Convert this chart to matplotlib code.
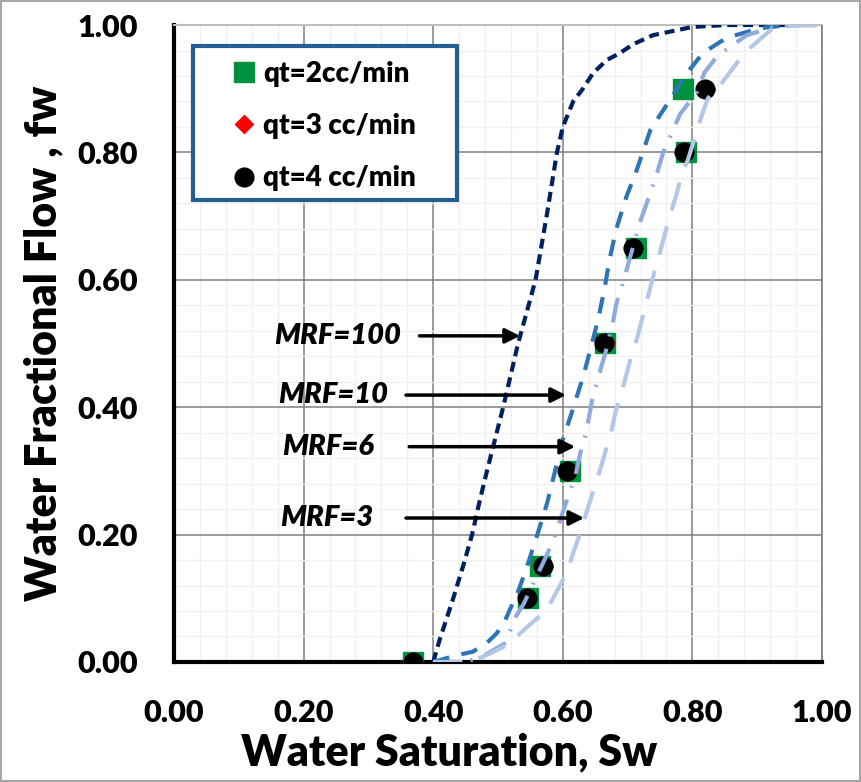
import numpy as np
import matplotlib.pyplot as plt
from matplotlib.patches import Rectangle
from matplotlib.ticker import MultipleLocator, FormatStrFormatter

# measured points (Sw, fw)
sw_q2 = [0.369, 0.546, 0.565, 0.611, 0.665, 0.713, 0.790, 0.785]
fw_q2 = [0.00, 0.10, 0.15, 0.30, 0.50, 0.65, 0.80, 0.90]
sw_q3 = [0.369, 0.547, 0.571, 0.609, 0.666, 0.710, 0.789, 0.821]
fw_q3 = [0.00, 0.10, 0.15, 0.30, 0.50, 0.65, 0.80, 0.90]
sw_q4 = [0.369, 0.545, 0.570, 0.607, 0.664, 0.708, 0.787, 0.820]
fw_q4 = [0.00, 0.10, 0.15, 0.30, 0.50, 0.65, 0.80, 0.90]

# fractional flow curves
sw_mrf100 = [0.40, 0.41, 0.43, 0.446, 0.46, 0.472, 0.483, 0.508, 0.531, 0.558, 0.575,
             0.591, 0.60, 0.616, 0.631, 0.647, 0.668, 0.688, 0.709, 0.739, 0.80, 0.85, 1.0]
fw_mrf100 = [0.0, 0.035, 0.097, 0.15, 0.20, 0.254, 0.30, 0.40, 0.50, 0.60, 0.70,
             0.80, 0.84, 0.88, 0.90, 0.925, 0.945, 0.956, 0.97, 0.984, 0.997, 1.0, 1.0]

sw_mrf10 = [0.40, 0.438, 0.461, 0.483, 0.498, 0.51, 0.52, 0.53, 0.539, 0.549, 0.562, 0.576,
            0.60, 0.614, 0.632, 0.645, 0.655, 0.664, 0.672, 0.682, 0.698, 0.714, 0.735,
            0.765, 0.789, 0.816, 0.853, 0.904, 0.95, 1.0]
fw_mrf10 = [0.0, 0.011, 0.016, 0.03, 0.045, 0.063, 0.086, 0.108, 0.133, 0.163, 0.204, 0.25,
            0.349, 0.392, 0.45, 0.50, 0.54, 0.584, 0.631, 0.678, 0.73, 0.772, 0.835,
            0.882, 0.921, 0.956, 0.98, 0.995, 1.0, 1.0]

sw_mrf6 = [0.40, 0.45, 0.475, 0.512, 0.526, 0.539, 0.573, 0.585, 0.596, 0.608, 0.619, 0.627,
           0.636, 0.645, 0.659, 0.667, 0.678, 0.683, 0.691, 0.704, 0.719, 0.735, 0.744,
           0.755, 0.77, 0.781, 0.807, 0.819, 0.836, 0.858, 0.884, 0.925, 0.96, 1.0]
fw_mrf6 = [0.0, 0.0, 0.008, 0.03, 0.069, 0.09, 0.163, 0.19, 0.223, 0.259, 0.29, 0.328,
           0.36, 0.41, 0.462, 0.49, 0.537, 0.564, 0.589, 0.636, 0.69, 0.736, 0.763,
           0.80, 0.835, 0.86, 0.895, 0.926, 0.948, 0.966, 0.984, 0.997, 1.0, 1.0]

sw_mrf3 = [0.40, 0.45, 0.477, 0.515, 0.545, 0.576, 0.585, 0.606, 0.616, 0.627, 0.639, 0.654,
           0.662, 0.676, 0.681, 0.696, 0.704, 0.714, 0.742, 0.755, 0.762, 0.776, 0.784,
           0.793, 0.812, 0.824, 0.843, 0.870, 0.889, 0.924, 0.96, 1.0]
fw_mrf3 = [0.0, 0.0, 0.008, 0.027, 0.055, 0.082, 0.10, 0.14, 0.171, 0.203, 0.243, 0.29,
           0.317, 0.367, 0.391, 0.443, 0.474, 0.506, 0.615, 0.662, 0.689, 0.736, 0.768,
           0.788, 0.851, 0.885, 0.906, 0.942, 0.964, 0.995, 1.0, 1.0]

# annotation labels: text position and arrow tip
mrf_labels = ['MRF=100', 'MRF=10', 'MRF=6', 'MRF=3']
label_sw = [0.253, 0.245, 0.238, 0.235]
label_fw = [0.512, 0.419, 0.338, 0.226]
arrow_start_sw = [0.379, 0.358, 0.363, 0.358]
arrow_end_sw = [0.534, 0.605, 0.619, 0.633]

BOLD = 'Lato'

fig = plt.figure(figsize=(8.61, 7.82), dpi=100)
fig.patch.set_edgecolor('#A6A6A6')
fig.patch.set_linewidth(1.5)
ax = fig.add_axes([0.2021, 0.1535, 0.7526, 0.8145])

# data markers (drawn under the curves)
ax.plot(sw_q2, fw_q2, 's', color='#00913F', markersize=14.5, label='qt=2cc/min', zorder=3)
ax.plot(sw_q3, fw_q3, 'D', color='#FF0000', markersize=9, label='qt=3 cc/min', zorder=4)
ax.plot(sw_q4, fw_q4, 'o', color='black', markersize=13.5, label='qt=4 cc/min', zorder=5)

# curves
ax.plot(sw_mrf100, fw_mrf100, color='#002060', lw=3, dashes=(2.4, 1.4), zorder=6)
ax.plot(sw_mrf10, fw_mrf10, color='#2E75B6', lw=3, dashes=(4, 3), zorder=6)
ax.plot(sw_mrf6, fw_mrf6, color='#8FAADC', lw=3, dashes=(6, 3, 0.5, 3), zorder=6)
ax.plot(sw_mrf3, fw_mrf3, color='#B4C7E7', lw=3, dashes=(7, 4), zorder=6)

for lab, tx, ty, xs, xe in zip(mrf_labels, label_sw, label_fw, arrow_start_sw, arrow_end_sw):
    ax.text(tx, ty, lab, ha='center', va='center', fontsize=21, fontweight='heavy',
            fontstyle='italic', family=BOLD, zorder=7)
    ax.annotate('', xy=(xe, ty), xytext=(xs, ty),
                arrowprops=dict(arrowstyle='-|>', color='black', lw=2.5,
                                mutation_scale=22, shrinkA=0, shrinkB=0), zorder=7)

ax.set_xlim(0, 1)
ax.set_ylim(0, 1)
ax.xaxis.set_major_locator(MultipleLocator(0.2))
ax.yaxis.set_major_locator(MultipleLocator(0.2))
ax.xaxis.set_minor_locator(MultipleLocator(0.04))
ax.yaxis.set_minor_locator(MultipleLocator(0.04))
ax.xaxis.set_major_formatter(FormatStrFormatter('%.2f'))
ax.yaxis.set_major_formatter(FormatStrFormatter('%.2f'))
ax.grid(which='major', color='#7F7F7F', lw=1.1)
ax.grid(which='minor', color='#EFEFEF', lw=0.9)
ax.set_axisbelow(True)
ax.tick_params(which='both', length=0)
ax.tick_params(axis='y', pad=26)
ax.tick_params(axis='x', pad=27)

for t in ax.get_xticklabels() + ax.get_yticklabels():
    t.set_fontfamily(BOLD)
    t.set_fontweight('heavy')
    t.set_fontsize(22)

ax.spines['left'].set_linewidth(3)
ax.spines['bottom'].set_linewidth(3)
ax.spines['top'].set_color('#BFBFBF')
ax.spines['right'].set_color('#7F7F7F')
ax.spines['top'].set_linewidth(1.5)
ax.spines['right'].set_linewidth(1.2)

ax.set_xlabel('Water Saturation, Sw', fontsize=31, fontweight='heavy', family=BOLD)
ax.set_ylabel('Water Fractional Flow , fw', fontsize=31, fontweight='heavy', family=BOLD)
ax.xaxis.set_label_coords(0.425, -0.110)
ax.yaxis.set_label_coords(-0.170, 0.50)

# legend frame drawn separately so the padding can match
ax.add_patch(Rectangle((0.029, 0.725), 0.408, 0.242, transform=ax.transAxes,
                       facecolor='white', edgecolor='#255E91', lw=3, zorder=8))
leg = ax.legend(loc='upper left', bbox_to_anchor=(0.086, 0.944), frameon=False,
                prop=dict(family=BOLD, weight='heavy', size=20),
                labelspacing=0.95, borderpad=0, handletextpad=0.2, handlelength=1.0,
                borderaxespad=0)
leg.set_zorder(9)

fig.savefig('out.png', dpi=100, edgecolor=fig.get_edgecolor())
